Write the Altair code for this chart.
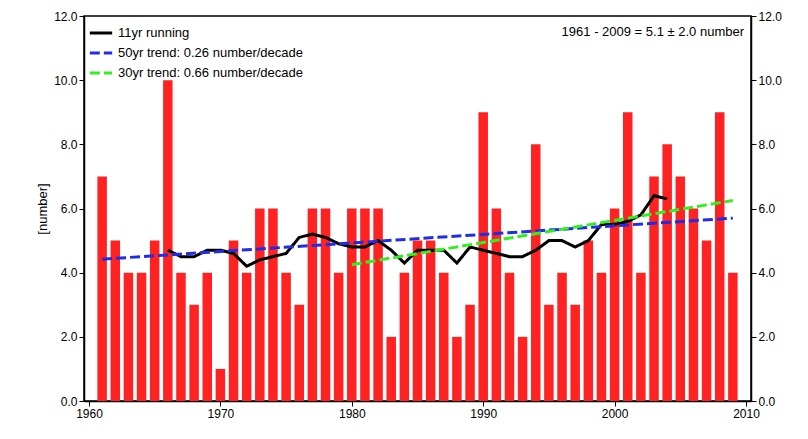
import altair as alt
import pandas as pd

years = list(range(1961, 2010))
counts = [7,5,4,4,5,10,4,3,4,1, 5,4,6,6,4,3,6,6,4,6, 6,6,2,4,5,5,4,2,3,9,
          6,4,2,8,3,4,3,5,4,6, 9,4,7,8,7,6,5,9,4]
run_years = list(range(1966, 2005))
run_vals = [4.7,4.5,4.5,4.7,4.7,4.6,4.2,4.4,4.5,4.6,5.1,5.2,5.1,4.9,4.8,4.8,5.0,4.7,4.3,4.7,
            4.7,4.7,4.3,4.8,4.7,4.6,4.5,4.5,4.7,5.0,5.0,4.8,5.0,5.5,5.5,5.6,5.8,6.4,6.3]
t50_years = [1961, 2009]; t50_vals = [4.42, 5.70]
t30_years = [1980, 2009]; t30_vals = [4.25, 6.25]
labels = ["11yr running", "50yr trend:  0.26 number/decade", "30yr trend:  0.66 number/decade"]
colors = ["black", "#1f2ee6", "#33ee22"]

bars = pd.DataFrame({"year": years, "n": counts})
lines = pd.concat([
    pd.DataFrame({"year": run_years, "v": run_vals, "s": labels[0]}),
    pd.DataFrame({"year": t50_years, "v": t50_vals, "s": labels[1]}),
    pd.DataFrame({"year": t30_years, "v": t30_vals, "s": labels[2]}),
])

xs = alt.Scale(domain=[1960, 2010], nice=False)
ys = alt.Scale(domain=[0, 12], nice=False)
xax = alt.Axis(values=[1960,1970,1980,1990,2000,2010], format="d", title=None, grid=False,
               labelFontSize=12, domainColor="black", tickColor="black", labelColor="black")
yax = alt.Axis(values=[0,2,4,6,8,10,12], format=".1f", title="[number]", grid=False,
               labelFontSize=12, titleFontSize=13, titleFontWeight="normal",
               domainColor="black", tickColor="black", labelColor="black", titleColor="black")
yax_r = alt.Axis(values=[0,2,4,6,8,10,12], format=".1f", title=None, grid=False, orient="right",
                 labelFontSize=12, domainColor="black", tickColor="black", labelColor="black")

b = alt.Chart(bars).mark_bar(color="#ff2222", width=9.5).encode(
    x=alt.X("year:Q", scale=xs, axis=xax),
    y=alt.Y("n:Q", scale=ys, axis=yax))
l = alt.Chart(lines).mark_line(strokeWidth=3).encode(
    x=alt.X("year:Q", scale=xs), y=alt.Y("v:Q", scale=ys, axis=yax_r),
    color=alt.Color("s:N", scale=alt.Scale(domain=labels, range=colors),
                    legend=alt.Legend(title=None, orient="top-left", symbolType="stroke",
                                      symbolStrokeWidth=3, symbolSize=500, labelFontSize=13,
                                      labelColor="black", offset=4, rowPadding=0, labelLimit=0)),
    strokeDash=alt.StrokeDash("s:N", scale=alt.Scale(domain=labels, range=[[1,0],[10,4],[10,4]]),
                              legend=None),
    detail="s:N")
ann = alt.Chart(pd.DataFrame({"t": ["1961 - 2009 =  5.1 \u00b1 2.0 number"]})).mark_text(
    align="right", baseline="top", fontSize=13, color="black").encode(
    text="t:N", x=alt.value(660), y=alt.value(10))

chart = alt.layer(b, l, ann).resolve_scale(y="independent").properties(
    width=667, height=385, padding={"left": 28, "top": 2, "right": 5, "bottom": 5}
).configure_view(stroke="black", strokeWidth=1.5).configure_axis(domainWidth=1.5)

chart.save("out.html", embed_options={"renderer": "svg", "actions": False})
